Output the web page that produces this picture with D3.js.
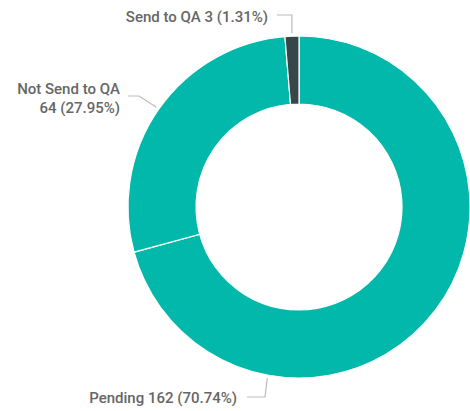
<!DOCTYPE html>
<html>
<head>
<meta charset="utf-8">
<script src="https://cdn.jsdelivr.net/npm/d3@7"></script>
<style>
  body { margin: 0; background: #fff; }
  svg { display: block; }
</style>
</head>
<body>
<script>
var width = 470;
var height = 411;

// data
var categories = ['Pending', 'Not Send to QA', 'Send to QA'];
var counts = [162, 64, 3];
var percents = ['70.74%', '27.95%', '1.31%'];
var colors = ['#01B8AA', '#01B8AA', '#374649'];

var cx = 299, cy = 207;
var outerR = 171, innerR = 103;

var canvas = d3.select('body').append('svg')
  .attr('width', width)
  .attr('height', height);

var g = canvas.append('g')
  .attr('transform', 'translate(' + cx + ',' + cy + ')');

var pie = d3.pie().sort(null).value(function(d) { return d; });
var arc = d3.arc().innerRadius(innerR).outerRadius(outerR);

var arcs = pie(counts);

g.selectAll('path')
  .data(arcs)
  .enter().append('path')
  .attr('d', arc)
  .attr('fill', function(d, i) { return colors[i]; })
  .attr('stroke', '#fff')
  .attr('stroke-width', 1.2);

// label layout: anchor angle (deg), text position, elbow
var labelLayout = [
  { angle: 190.5, r: outerR + 3, elbow: [-34, 190], end: [-52, 190], tx: -62, ty: 196, lines: function(i) { return [categories[i] + ' ' + counts[i] + ' (' + percents[i] + ')']; } },
  { angle: null, r: outerR + 3, elbow: [-160, -111], end: [-171, -111], tx: -179, ty: -113, lines: function(i) { return [categories[i], counts[i] + ' (' + percents[i] + ')']; } },
  { angle: null, r: outerR + 3, elbow: [-6, -192], end: [-22, -192], tx: -31, ty: -185, lines: function(i) { return [categories[i] + ' ' + counts[i] + ' (' + percents[i] + ')']; } }
];

var pt = function(a, r) {
  return [Math.sin(a) * r, -Math.cos(a) * r];
};

arcs.forEach(function(d, i) {
  var L = labelLayout[i];
  var a = L.angle == null ? (d.startAngle + d.endAngle) / 2 : L.angle * Math.PI / 180;
  var p = pt(a, L.r);
  var ex = L.elbow[0], ey = L.elbow[1];
  if (i === 2) { ex = p[0]; }
  g.append('polyline')
    .attr('points', [p, [ex, ey], L.end].map(function(q) { return q.join(','); }).join(' '))
    .attr('fill', 'none')
    .attr('stroke', '#bbb')
    .attr('stroke-width', 1.2);

  var t = g.append('text')
    .attr('x', L.tx)
    .attr('y', L.ty)
    .attr('text-anchor', 'end')
    .attr('fill', '#666')
    .style('font-family', 'Roboto, sans-serif')
    .style('font-weight', 500)
    .style('font-size', '15px');
  L.lines(i).forEach(function(s, k) {
    t.append('tspan')
      .attr('x', L.tx)
      .attr('dy', k === 0 ? 0 : 19)
      .text(s);
  });
});
</script>
</body>
</html>
